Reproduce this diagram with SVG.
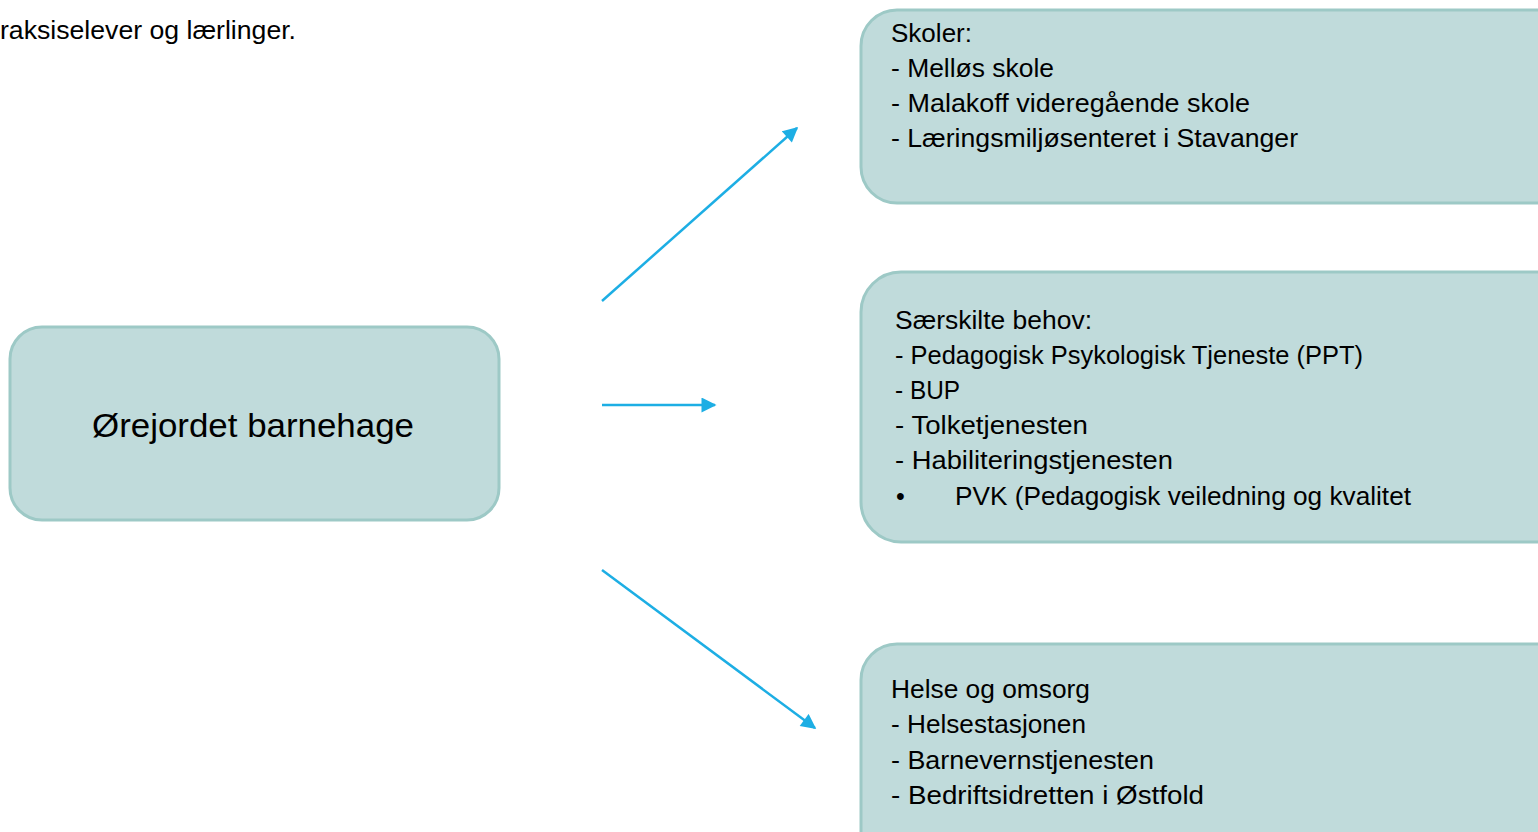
<svg xmlns="http://www.w3.org/2000/svg" width="1538" height="832" viewBox="0 0 1538 832">
<style>
.box{fill:#C0DBDB;stroke:#9DC9C6;stroke-width:3}
.t{font-family:"Liberation Sans",Arial,sans-serif;fill:#000}
.s{font-size:25px}
.c{stroke:#1DAEE4;stroke-width:2.5;fill:none}
</style>
<defs>
<marker id="ah" viewBox="0 0 10 10" refX="9" refY="5" markerWidth="6.5" markerHeight="6" markerUnits="strokeWidth" orient="auto">
<path d="M0,0 L10,5 L0,10 z" fill="#1DAEE4"/>
</marker>
</defs>
<rect width="1538" height="832" fill="#fff"/>
<text class="t" x="0" y="39" font-size="26" textLength="296" lengthAdjust="spacingAndGlyphs">raksiselever og lærlinger.</text>
<g id="node-barnehage">
<rect class="box" x="10" y="327" width="489" height="193" rx="32"/>
<text class="t" x="92" y="437" font-size="34" textLength="322" lengthAdjust="spacingAndGlyphs">Ørejordet barnehage</text>
</g>
<g id="node-skoler">
<rect class="box" x="861" y="10" width="720" height="193" rx="36"/>
<text class="t s" x="891" y="42" textLength="81" lengthAdjust="spacingAndGlyphs">Skoler:</text>
<text class="t s" x="891" y="77" textLength="163" lengthAdjust="spacingAndGlyphs">- Melløs skole</text>
<text class="t s" x="891" y="112" textLength="359" lengthAdjust="spacingAndGlyphs">- Malakoff videregående skole</text>
<text class="t s" x="891" y="147" textLength="407" lengthAdjust="spacingAndGlyphs">- Læringsmiljøsenteret i Stavanger</text>
</g>
<g id="node-behov">
<rect class="box" x="861" y="272" width="720" height="270" rx="40"/>
<text class="t s" x="895" y="329" textLength="197" lengthAdjust="spacingAndGlyphs">Særskilte behov:</text>
<text class="t s" x="895" y="364" textLength="468" lengthAdjust="spacingAndGlyphs">- Pedagogisk Psykologisk Tjeneste (PPT)</text>
<text class="t s" x="895" y="399" textLength="65" lengthAdjust="spacingAndGlyphs">- BUP</text>
<text class="t s" x="895" y="434" textLength="193" lengthAdjust="spacingAndGlyphs">- Tolketjenesten</text>
<text class="t s" x="895" y="469" textLength="278" lengthAdjust="spacingAndGlyphs">- Habiliteringstjenesten</text>
<text class="t s" x="896" y="505">•</text>
<text class="t s" x="955" y="505" textLength="456" lengthAdjust="spacingAndGlyphs">PVK (Pedagogisk veiledning og kvalitet</text>
</g>
<g id="node-helse">
<rect class="box" x="861" y="644" width="720" height="250" rx="36"/>
<text class="t s" x="891" y="698" textLength="199" lengthAdjust="spacingAndGlyphs">Helse og omsorg</text>
<text class="t s" x="891" y="733" textLength="195" lengthAdjust="spacingAndGlyphs">- Helsestasjonen</text>
<text class="t s" x="891" y="769" textLength="263" lengthAdjust="spacingAndGlyphs">- Barnevernstjenesten</text>
<text class="t s" x="891" y="804" textLength="313" lengthAdjust="spacingAndGlyphs">- Bedriftsidretten i Østfold</text>
</g>
<g id="connectors">
<line class="c" x1="602" y1="301" x2="797" y2="128" marker-end="url(#ah)"/>
<line class="c" x1="602" y1="405" x2="715" y2="405" marker-end="url(#ah)"/>
<line class="c" x1="602" y1="570" x2="815" y2="728" marker-end="url(#ah)"/>
</g>
</svg>
